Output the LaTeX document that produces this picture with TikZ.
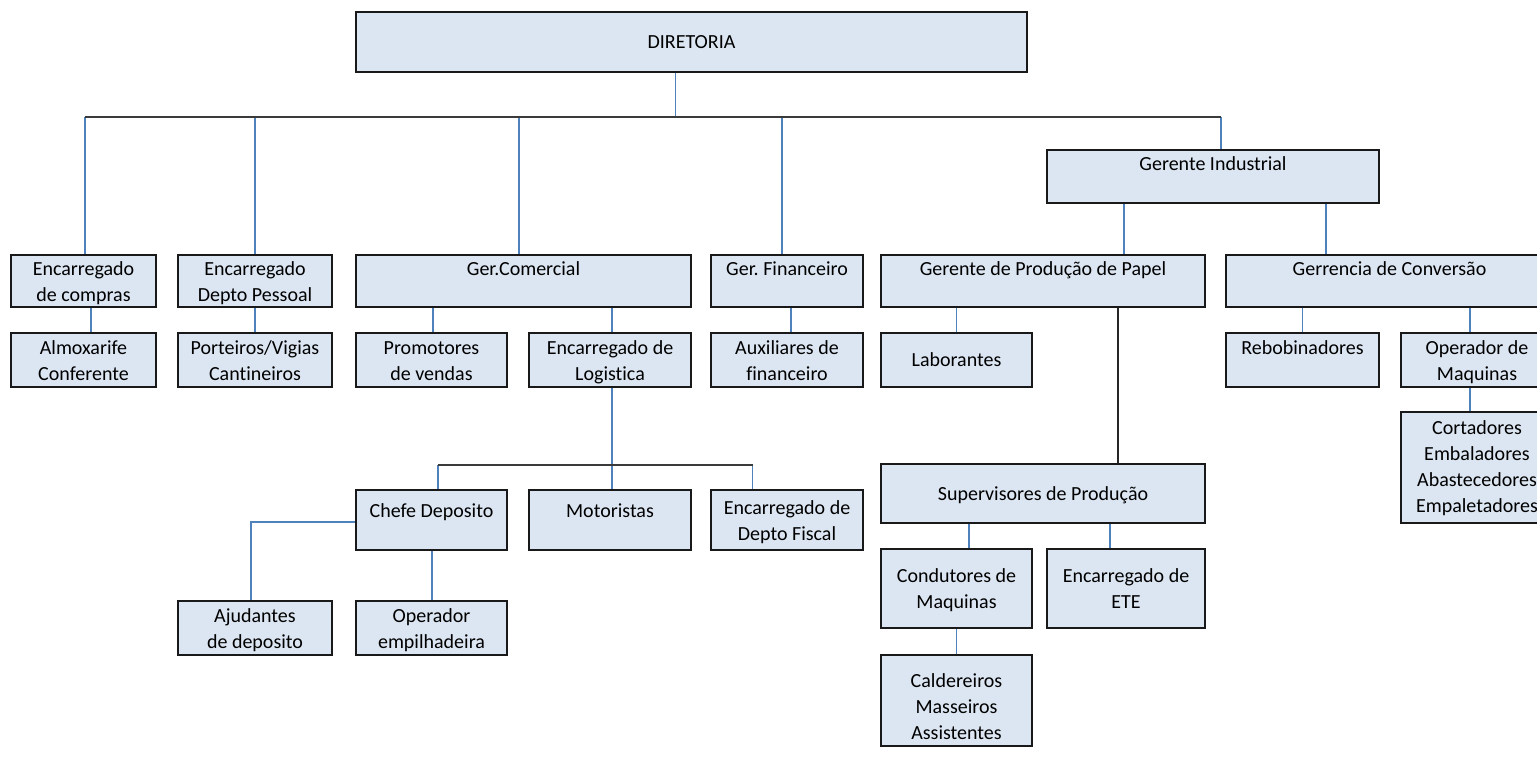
\documentclass[tikz,border=0pt]{standalone}
\usepackage{fontspec}
\setmainfont{Carlito}[Ligatures=NoCommon]
\frenchspacing
\usetikzlibrary{backgrounds}
\definecolor{boxfill}{HTML}{DCE6F2}
\definecolor{lineblue}{HTML}{4F81BD}
\definecolor{busgray}{HTML}{3A3A3A}
\newcommand\tlines[1]{\begin{tabular}[t]{@{}c@{}}#1\end{tabular}}
\newcommand\orgbox[7]{%
  \node[obox, minimum width={(#4-#2)*1pt}, minimum height={(#5-#3)*1pt}] (#1) at ({(#2+#4)/2},{(#3+#5)/2}) {};
  \node[otext, anchor=base] (#1-t) at ({(#2+#4)/2},#6) {\tlines{#7}};
}
\begin{document}
\begin{tikzpicture}[x=1pt,y=-1pt,
  obox/.style={draw=black!90, line width=2.6pt, fill=boxfill, inner sep=0pt, outer sep=0pt},
  otext/.style={inner sep=0pt, font=\fontsize{20}{26}\selectfont, text=black},
  conn/.style={draw=lineblue, line width=1.3pt},
  busline/.style={draw=busgray, line width=1.8pt},
  blackline/.style={draw=black!85, line width=1.6pt}]
\useasboundingbox (0,0) rectangle (1537,756);

\orgbox{dir}{356}{12}{1027}{72}{48}{DIRETORIA}
\orgbox{ind}{1047}{150}{1379}{203}{170}{Gerente Industrial}
\orgbox{comp}{11}{255}{156}{307}{275}{Encarregado\\de compras}
\orgbox{pess}{178}{255}{332}{307}{275}{Encarregado\\Depto Pessoal}
\orgbox{com}{356}{255}{691}{307}{275}{Ger.Comercial}
\orgbox{fin}{711}{255}{863}{307}{275}{Ger. Financeiro}
\orgbox{prod}{881}{255}{1205}{307}{275}{Gerente de Produção de Papel}
\orgbox{conv}{1226}{255}{1553}{307}{275}{Gerrencia de Conversão}
\orgbox{almox}{11}{333}{156}{387}{354}{Almoxarife\\Conferente}
\orgbox{port}{178}{333}{332}{387}{354}{Porteiros/Vigias\\Cantineiros}
\orgbox{prom}{356}{333}{507}{387}{354}{Promotores\\de vendas}
\orgbox{log}{529}{333}{691}{387}{354}{Encarregado de\\Logistica}
\orgbox{aux}{711}{333}{863}{387}{354}{Auxiliares de\\financeiro}
\orgbox{lab}{881}{333}{1032}{387}{366}{Laborantes}
\orgbox{rebo}{1226}{333}{1379}{387}{354}{Rebobinadores}
\orgbox{opm}{1401}{333}{1553}{387}{354}{Operador de\\Maquinas}
\orgbox{cort}{1401}{412}{1553}{523}{434}{Cortadores\\Embaladores\\Abastecedores\\Empaletadores}
\orgbox{chefe}{356}{490}{507}{550}{517}{Chefe Deposito}
\orgbox{mot}{529}{490}{691}{550}{517}{Motoristas}
\orgbox{fisc}{711}{490}{863}{550}{514}{Encarregado de\\Depto Fiscal}
\orgbox{sup}{881}{464}{1205}{523}{500}{Supervisores de Produção}
\orgbox{cond}{881}{549}{1032}{628}{582}{Condutores de\\Maquinas}
\orgbox{ete}{1047}{549}{1205}{628}{582}{Encarregado de\\ETE}
\orgbox{cald}{881}{655}{1032}{746}{687}{Caldereiros\\Masseiros\\Assistentes}
\orgbox{ajud}{178}{601}{332}{655}{622}{Ajudantes\\de deposito}
\orgbox{empi}{356}{601}{507}{655}{622}{Operador\\empilhadeira}

\begin{pgfonlayer}{background}
\fill[white] (0,0) rectangle (1537,756);
% top bus
\coordinate (busL) at (85,117);
\coordinate (busR) at (1221,117);
\coordinate (d0) at ([xshift=-16pt]dir.south);
\draw[conn] (d0) -- (d0 |- busL);
\draw[conn] (busL) -- (busL |- comp.north);
\draw[conn] (pess.north |- busL) -- (pess.north);
\coordinate (c0) at ([xshift=-4.5pt]com.north);
\draw[conn] (c0 |- busL) -- (c0);
\coordinate (f0) at ([xshift=-5pt]fin.north);
\draw[conn] (f0 |- busL) -- (f0);
\draw[conn] (busR) -- (busR |- ind.north);
\draw[busline] (busL) -- (busR);
% industrial
\coordinate (i1) at ([xshift=-89pt]ind.south);
\draw[conn] (i1) -- (i1 |- prod.north);
\coordinate (i2) at ([xshift=113pt]ind.south);
\draw[conn] (i2) -- (i2 |- conv.north);
% level 2 -> 3
\coordinate (k1) at ([xshift=7.5pt]almox.north);
\draw[conn] (k1 |- comp.south) -- (k1);
\draw[conn] (pess.south) -- (port.north);
\coordinate (m1) at ([xshift=1.5pt]prom.north);
\draw[conn] (m1 |- com.south) -- (m1);
\coordinate (m2) at ([xshift=2pt]log.north);
\draw[conn] (m2 |- com.south) -- (m2);
\coordinate (a1) at ([xshift=4pt]aux.north);
\draw[conn] (a1 |- fin.south) -- (a1);
\draw[conn] (lab.north |- prod.south) -- (lab.north);
\coordinate (p1) at ([xshift=75pt]sup.north);
\draw[blackline] (p1 |- prod.south) -- (p1);
\draw[conn] (rebo.north |- conv.south) -- (rebo.north);
\coordinate (o1) at ([xshift=-7pt]opm.north);
\draw[conn] (o1 |- conv.south) -- (o1);
\coordinate (o2) at ([xshift=-7pt]cort.north);
\draw[conn] (o2 |- opm.south) -- (o2);
% logistica
\coordinate (lbus) at (0,465);
\coordinate (l0) at ([xshift=2pt]mot.north);
\draw[conn] (l0 |- log.south) -- (l0);
\coordinate (l1) at ([xshift=6.5pt]chefe.north);
\coordinate (l2) at ([xshift=-34.5pt]fisc.north);
\draw[conn] (l1 |- lbus) -- (l1);
\draw[conn] (l2 |- lbus) -- (l2);
\draw[busline] (l1 |- lbus) -- (l2 |- lbus);
% chefe deposito
\coordinate (h0) at ([yshift=-2pt]chefe.west);
\coordinate (aj) at ([xshift=-4pt]ajud.north);
\draw[conn] (h0) -| (aj);
\coordinate (e1) at ([xshift=0.5pt]empi.north);
\draw[conn] (e1 |- chefe.south) -- (e1);
% supervisores
\coordinate (s1) at ([xshift=12.5pt]cond.north);
\draw[conn] (s1 |- sup.south) -- (s1);
\coordinate (s2) at ([xshift=-16pt]ete.north);
\draw[conn] (s2 |- sup.south) -- (s2);
\draw[conn] (cond.south) -- (cald.north);
\end{pgfonlayer}
\end{tikzpicture}
\end{document}
